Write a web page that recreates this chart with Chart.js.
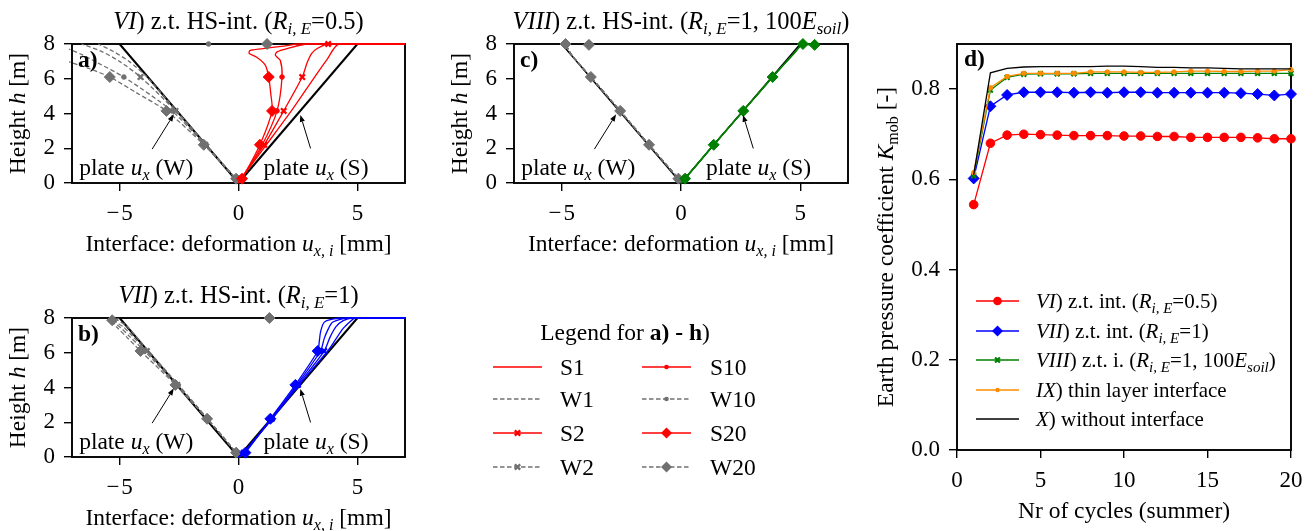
<!DOCTYPE html>
<html>
<head>
<meta charset="utf-8">
<script src="https://cdn.jsdelivr.net/npm/chart.js@4.4.1/dist/chart.umd.min.js"></script>
<style>
  html, body { margin:0; padding:0; background:#fff; }
  #wrap { position:relative; width:1314px; height:531px; overflow:hidden; }
  #wrap canvas { position:absolute; left:0; top:0; }
</style>
</head>
<body>
<div id="wrap">
  <canvas id="cv-a" width="1314" height="531"></canvas>
  <canvas id="cv-b" width="1314" height="531"></canvas>
  <canvas id="cv-c" width="1314" height="531"></canvas>
  <canvas id="cv-d" width="1314" height="531"></canvas>
</div>
<script>
/* ─── Data: panels a) - c)  (points are [u_x,i in mm, height h in m]) ── */
const UX_TICKS = [-5, 0, 5];
const H_TICKS  = [0, 2, 4, 6, 8];
const MARK_H   = [0.25, 2.2, 4.15, 6.1];   // nodes that carry a marker

const PLATE_W = [[-5, 8], [0, 0]];
const PLATE_S = [[0, 0], [5, 8]];

// a) VI  R_i,E = 0.5
const A_S1  = [[0,0],[0.12,0.25],[1.17,2.2],[2.22,4.15],[3.2,6.1],[3.72,7.1],[4.22,8],[7,8]];
const A_S2  = [[0,0],[0.12,0.25],[1.08,2.2],[1.9,4.15],[2.68,6.1],[2.88,6.9],[3.07,7.45],[3.31,7.74],[3.77,8],[7,8]];
const A_S10 = [[0,0],[0.12,0.25],[1.0,2.2],[1.62,4.15],[1.83,6.1],[1.76,7.05],[1.55,7.35],[1.62,7.55],[2.05,7.74],[2.9,8],[7,8]];
const A_S20 = [[0,0],[0.15,0.25],[0.9,2.2],[1.41,4.15],[1.36,5.1],[1.27,6.1],[1.12,6.8],[0.75,7.25],[0.45,7.45],[0.48,7.62],[0.95,7.72],[1.9,7.88],[2.5,8],[7,8]];
const A_W1  = [[0,0],[-0.12,0.25],[-1.36,2.2],[-2.6,4.15],[-3.85,6.1],[-4.6,7.0],[-5.3,7.6],[-5.9,8]];
const A_W2  = [[0,0],[-0.12,0.25],[-1.4,2.2],[-2.65,4.15],[-4.12,6.1],[-5.0,7.0],[-5.8,7.6],[-6.6,8]];
const A_W10 = [[0,0],[-0.12,0.25],[-1.42,2.2],[-2.8,4.15],[-4.82,6.1],[-5.9,6.9],[-6.6,7.4],[-7.3,7.8]];
const A_W20 = [[0,0],[-0.1,0.25],[-1.46,2.2],[-3.03,4.15],[-4.3,5.2],[-5.41,6.1],[-6.3,6.6],[-7.2,7.0]];
// surface nodes (h = 8) that show up on the top edge
const A_TOP_S2  = [[3.77, 8]];
const A_TOP_W10 = [[-1.26, 8]];
const A_TOP_W20 = [[1.2, 8]];

// b) VII  R_i,E = 1
const B_S1  = [[0,0],[0.2,0.25],[1.42,2.2],[2.55,4.15],[3.75,6.1],[4.1,6.8],[4.4,7.4],[4.7,7.8],[4.9,8],[7,8]];
const B_S2  = [[0,0],[0.22,0.25],[1.4,2.2],[2.5,4.15],[3.6,6.1],[3.85,6.9],[4.1,7.5],[4.4,7.85],[4.8,8],[7,8]];
const B_S10 = [[0,0],[0.25,0.25],[1.38,2.2],[2.45,4.15],[3.45,6.1],[3.6,6.8],[3.75,7.3],[3.95,7.75],[4.4,7.97],[4.7,8],[7,8]];
const B_S20 = [[0,0],[0.29,0.25],[1.34,2.2],[2.39,4.15],[3.33,6.1],[3.4,6.7],[3.45,7.2],[3.6,7.75],[4.0,7.95],[4.6,8],[7,8]];
const B_W1  = [[0,0],[-0.1,0.25],[-1.3,2.2],[-2.52,4.15],[-3.78,6.1],[-4.35,7.0],[-4.75,7.6],[-5.1,7.9],[-5.05,8]];
const B_W2  = [[0,0],[-0.1,0.25],[-1.31,2.2],[-2.57,4.15],[-3.85,6.1],[-4.45,6.95],[-4.85,7.5],[-5.25,7.85],[-5.15,8]];
const B_W10 = [[0,0],[-0.1,0.25],[-1.32,2.2],[-2.6,4.15],[-3.95,6.1],[-4.55,6.9],[-5.0,7.5],[-5.4,7.85],[-5.25,8]];
const B_W20 = [[0,0],[-0.1,0.25],[-1.32,2.2],[-2.65,4.15],[-4.12,6.1],[-4.7,6.9],[-5.1,7.45],[-5.35,7.8],[-5.3,8]];
const B_TOP_W20 = [[-5.31, 7.87], [1.3, 8]];

// c) VIII  R_i,E = 1, 100 E_soil  (all cycles lie on top of each other)
const C_S = [[0,0],[0.17,0.25],[1.37,2.2],[2.61,4.15],[3.84,6.1],[4.7,7.4],[5.11,8],[5.6,7.95]];
const C_W = [[0,0],[-0.11,0.25],[-1.34,2.2],[-2.55,4.15],[-3.78,6.1],[-4.6,7.4],[-4.84,8]];
const C_TOP_S20 = [[5.11, 8], [5.6, 7.95]];
const C_TOP_W20 = [[-4.84, 8], [-3.86, 7.95]];

/* ─── Data: panel d) ─────────────────────────────────────────────────── */
const CYCLES  = [1,2,3,4,5,6,7,8,9,10,11,12,13,14,15,16,17,18,19,20];
const K_VI    = [0.544,0.680,0.698,0.700,0.699,0.698,0.697,0.697,0.697,0.696,0.696,0.695,0.695,0.693,0.693,0.693,0.693,0.692,0.690,0.690];
const K_VII   = [0.602,0.762,0.787,0.793,0.793,0.793,0.792,0.793,0.792,0.793,0.793,0.792,0.792,0.792,0.792,0.792,0.791,0.789,0.786,0.789];
const K_VIII  = [0.608,0.798,0.826,0.833,0.834,0.834,0.834,0.835,0.835,0.835,0.835,0.835,0.835,0.835,0.835,0.835,0.835,0.835,0.835,0.835];
const K_IX    = [0.615,0.803,0.828,0.835,0.835,0.835,0.835,0.838,0.838,0.838,0.837,0.837,0.838,0.840,0.840,0.839,0.839,0.840,0.840,0.843];
const K_X     = [0.610,0.836,0.846,0.849,0.850,0.850,0.850,0.850,0.851,0.851,0.850,0.848,0.848,0.847,0.847,0.846,0.845,0.845,0.845,0.845];
const D_X_TICKS = [0, 5, 10, 15, 20];
const D_Y_TICKS = [0, 0.2, 0.4, 0.6, 0.8];

/* ─── Look ───────────────────────────────────────────────────────────── */
const W = 1314, H = 531;
const YW = 60, XH = 40;                 // fixed axis box sizes
const FONT = '"Liberation Serif","Times New Roman",serif';
const FS_TICK = 23, FS_TXT = 23.5, FS_TITLE = 24.5, FS_LEG_D = 21;
const RED = "#ff0000", BLUE = "#0000ff", GREEN = "#008000", ORANGE = "#ff8c00", GREY = "#707070";
const DASH = [4.5, 2.5];

const MK = {
  S1:  null,
  S2:  { style:"crossRot", r:3.8, bw:2.3 },
  S10: { style:"circle",   r:2.3, bw:1 },
  S20: { style:"rectRot",  r:5.5, bw:1 },
};
MK.W1 = MK.S1; MK.W2 = MK.S2; MK.W10 = MK.S10; MK.W20 = MK.S20;

// plot rectangles in page pixels
const GEO = {
  a: { l:72,  t:44,  r:405,  b:183 },
  b: { l:72,  t:318, r:405,  b:457 },
  c: { l:514, t:44,  r:848,  b:183 },
  d: { l:957, t:44,  r:1291, b:450 },
};

/* ─── Rich text (italics, bold, subscripts) ──────────────────────────── */
function fontStr(run, size) {
  return (run.i ? "italic " : "") + (run.b ? "bold " : "") + size + "px " + FONT;
}
function runSize(run, fs) { return run.sub ? Math.round(fs * 0.7) : fs; }
function richWidth(ctx, runs, fs) {
  let w = 0;
  runs.forEach(r => { ctx.font = fontStr(r, runSize(r, fs)); w += ctx.measureText(r.t).width; });
  return w;
}
function drawRich(ctx, runs, x, y, fs, align) {
  const w = richWidth(ctx, runs, fs);
  let cx = align === "center" ? x - w / 2 : align === "right" ? x - w : x;
  ctx.textAlign = "left"; ctx.textBaseline = "alphabetic"; ctx.fillStyle = "#000";
  runs.forEach(r => {
    ctx.font = fontStr(r, runSize(r, fs));
    ctx.fillText(r.t, cx, y + (r.sub ? fs * 0.22 : 0));
    cx += ctx.measureText(r.t).width;
  });
}

const RIE = [{t:"R",i:1},{t:"i, E",i:1,sub:1}];
const TXT = {
  titleA: [{t:"VI",i:1},{t:") z.t. HS-int. ("},...RIE,{t:"=0.5)"}],
  titleB: [{t:"VII",i:1},{t:") z.t. HS-int. ("},...RIE,{t:"=1)"}],
  titleC: [{t:"VIII",i:1},{t:") z.t. HS-int. ("},...RIE,{t:"=1, 100"},{t:"E",i:1},{t:"soil",i:1,sub:1},{t:")"}],
  xProf:  [{t:"Interface: deformation "},{t:"u",i:1},{t:"x, i",i:1,sub:1},{t:" [mm]"}],
  yProf:  [{t:"Height "},{t:"h",i:1},{t:" [m]"}],
  xD:     [{t:"Nr of cycles (summer)"}],
  yD:     [{t:"Earth pressure coefficient "},{t:"K",i:1},{t:"mob",sub:1},{t:" [-]"}],
  plateW: [{t:"plate "},{t:"u",i:1},{t:"x",i:1,sub:1},{t:" (W)"}],
  plateS: [{t:"plate "},{t:"u",i:1},{t:"x",i:1,sub:1},{t:" (S)"}],
  legTitle: [{t:"Legend for "},{t:"a) - h",b:1},{t:")"}],
};

// annotation anchors in data units
const PLATE_NOTES = [
  { text: TXT.plateW, tx:-6.7, ty:0.45, from:[-3.63,1.95], to:[-2.72,3.95] },
  { text: TXT.plateS, tx: 1.05, ty:0.45, from:[ 3.03,1.99], to:[ 2.6, 3.92] },
];

/* ─── Small drawing helpers ──────────────────────────────────────────── */
function marker(ctx, mk, x, y, color) {
  if (!mk) return;
  const r = mk.r;
  ctx.save();
  ctx.setLineDash([]);
  ctx.fillStyle = color; ctx.strokeStyle = color;
  ctx.beginPath();
  if (mk.style === "circle") {
    ctx.arc(x, y, r, 0, Math.PI * 2); ctx.fill();
  } else if (mk.style === "rectRot") {
    ctx.moveTo(x - r, y); ctx.lineTo(x, y - r); ctx.lineTo(x + r, y); ctx.lineTo(x, y + r);
    ctx.closePath(); ctx.fill();
  } else {
    const d = r * Math.SQRT1_2;
    ctx.lineWidth = mk.bw;
    ctx.moveTo(x - d, y - d); ctx.lineTo(x + d, y + d);
    ctx.moveTo(x + d, y - d); ctx.lineTo(x - d, y + d);
    ctx.stroke();
  }
  ctx.restore();
}

function arrow(ctx, x0, y0, x1, y1) {
  const ang = Math.atan2(y1 - y0, x1 - x0), L = 7, hw = 2.6;
  ctx.save();
  ctx.strokeStyle = "#000"; ctx.fillStyle = "#000"; ctx.lineWidth = 1;
  ctx.beginPath(); ctx.moveTo(x0, y0);
  ctx.lineTo(x1 - Math.cos(ang) * L, y1 - Math.sin(ang) * L); ctx.stroke();
  ctx.beginPath();
  ctx.moveTo(x1, y1);
  ctx.lineTo(x1 - Math.cos(ang) * L - Math.sin(ang) * hw, y1 - Math.sin(ang) * L + Math.cos(ang) * hw);
  ctx.lineTo(x1 - Math.cos(ang) * L + Math.sin(ang) * hw, y1 - Math.sin(ang) * L - Math.cos(ang) * hw);
  ctx.closePath(); ctx.fill();
  ctx.restore();
}

function legendRow(ctx, x0, x1, y, color, dashed, mk, lw) {
  ctx.save();
  ctx.strokeStyle = color; ctx.lineWidth = lw || 1.3;
  ctx.setLineDash(dashed ? DASH : []);
  ctx.beginPath(); ctx.moveTo(x0, y); ctx.lineTo(x1, y); ctx.stroke();
  ctx.restore();
  marker(ctx, mk, (x0 + x1) / 2, y, color);
}

/* ─── Datasets ───────────────────────────────────────────────────────── */
function markIndex(pts) {
  const s = new Set();
  MARK_H.forEach(h => { const i = pts.findIndex(p => p[1] === h); if (i >= 0) s.add(i); });
  return s;
}

function profile(pts, key, color, order) {
  const mk = MK[key];
  const dashed = key[0] === "W";
  const idx = markIndex(pts);
  return {
    data: pts.map(p => ({ x: p[0], y: p[1] })),
    showLine: true,
    borderColor: color,
    borderWidth: 1.3,
    borderDash: dashed ? DASH : [],
    tension: 0.25,
    pointStyle: mk ? mk.style : "circle",
    pointRadius: c => (mk && idx.has(c.dataIndex)) ? mk.r : 0,
    pointBorderWidth: mk ? mk.bw : 0,
    pointBackgroundColor: color,
    pointBorderColor: color,
    clip: 3,
    order,
  };
}

// marker-only nodes (e.g. on the surface edge)
function nodes(pts, key, color) {
  const mk = MK[key];
  return {
    data: pts.map(p => ({ x: p[0], y: p[1] })),
    showLine: false,
    pointStyle: mk.style, pointRadius: mk.r, pointBorderWidth: mk.bw,
    pointBackgroundColor: color, pointBorderColor: color,
    clip: 8, order: 10,
  };
}

function plate(pts, lw) {
  return {
    data: pts.map(p => ({ x: p[0], y: p[1] })),
    showLine: true, borderColor: "#000", borderWidth: lw,
    pointRadius: 0, tension: 0, clip: 2, order: 100,
  };
}

function profileSets(s, w, sColor, plateLw) {
  return [
    plate(PLATE_W, plateLw), plate(PLATE_S, plateLw),
    profile(w.W1, "W1", GREY, 50), profile(w.W2, "W2", GREY, 49),
    profile(w.W10, "W10", GREY, 48), profile(w.W20, "W20", GREY, 47),
    profile(s.S1, "S1", sColor, 40), profile(s.S2, "S2", sColor, 39),
    profile(s.S10, "S10", sColor, 38), profile(s.S20, "S20", sColor, 37),
  ];
}

/* ─── Axes ───────────────────────────────────────────────────────────── */
const fmtMinus = v => (v < 0 ? "\u2212\u200a" + Math.abs(v) : String(v));

function axis(vertical, min, max, ticks, fmt) {
  return {
    type: "linear", min, max,
    afterBuildTicks: s => { s.ticks = ticks.map(v => ({ value: v })); },
    afterFit: s => { if (vertical) s.width = YW; else s.height = XH; },
    ticks: { color:"#000", font:{ family:FONT, size:FS_TICK }, padding:9,
             autoSkip:false, maxRotation:0, callback: fmt },
    grid: { drawOnChartArea:false, color:"#000", tickLength:8, lineWidth:1.4 },
    border: { display:false },
  };
}

const framePlugin = {
  id: "frame",
  beforeDatasetsDraw(c) {
    const a = c.chartArea, ctx = c.ctx;
    ctx.save();
    ctx.strokeStyle = "#000"; ctx.lineWidth = 1.9;
    ctx.strokeRect(a.left, a.top, a.right - a.left, a.bottom - a.top);
    ctx.restore();
  },
};

function makeChart(id, g, datasets, scales, draw) {
  return new Chart(document.getElementById(id), {
    type: "scatter",
    data: { datasets },
    options: {
      responsive: false, animation: false, events: [],
      layout: { padding: { left: g.l - YW, top: g.t, right: W - g.r, bottom: H - g.b - XH } },
      plugins: { legend: { display:false }, tooltip: { enabled:false } },
      scales,
    },
    plugins: [framePlugin, { id:"texts", afterDraw: draw }],
  });
}

/* ─── Text layers ────────────────────────────────────────────────────── */
function drawAxisTexts(c, xRuns, yRuns, yOff) {
  const a = c.chartArea, ctx = c.ctx;
  drawRich(ctx, xRuns, (a.left + a.right) / 2, a.bottom + 68, FS_TXT, "center");
  ctx.save();
  ctx.translate(a.left - yOff, (a.top + a.bottom) / 2);
  ctx.rotate(-Math.PI / 2);
  drawRich(ctx, yRuns, 0, 0, FS_TXT, "center");
  ctx.restore();
}

function drawProfileTexts(c, title, tag) {
  const a = c.chartArea, ctx = c.ctx, sx = c.scales.x, sy = c.scales.y;
  drawRich(ctx, title, (a.left + a.right) / 2, a.top - 15, FS_TITLE, "center");
  drawAxisTexts(c, TXT.xProf, TXT.yProf, 47);
  drawRich(ctx, [{ t: tag, b: 1 }], a.left + 6, a.top + 23, FS_TXT, "left");
  PLATE_NOTES.forEach(n => {
    drawRich(ctx, n.text, sx.getPixelForValue(n.tx), sy.getPixelForValue(n.ty), FS_TXT, "left");
    arrow(ctx, sx.getPixelForValue(n.from[0]), sy.getPixelForValue(n.from[1]),
               sx.getPixelForValue(n.to[0]),   sy.getPixelForValue(n.to[1]));
  });
}

// shared legend for a) - h), placed below panel c)
const LEG_AH = {
  title: { x:625, y:340 },
  cols: [ { x0:493, x1:542, tx:560 }, { x0:642, x1:691, tx:710 } ],
  rows: [367, 399, 433, 467],
  items: [["S1","W1","S2","W2"], ["S10","W10","S20","W20"]],
};
function drawSharedLegend(ctx) {
  drawRich(ctx, TXT.legTitle, LEG_AH.title.x, LEG_AH.title.y, FS_TXT, "center");
  LEG_AH.cols.forEach((col, ci) => {
    LEG_AH.items[ci].forEach((key, ri) => {
      const y = LEG_AH.rows[ri];
      const isW = key[0] === "W";
      legendRow(ctx, col.x0, col.x1, y, isW ? GREY : RED, isW, MK[key]);
      drawRich(ctx, [{ t: key }], col.tx, y + 8, FS_TXT, "left");
    });
  });
}

/* ─── Panel d) series + legend ───────────────────────────────────────── */
const D_SERIES = [
  { data:K_VI,   color:RED,    mk:{ style:"circle",   r:4.3, bw:1 } },
  { data:K_VII,  color:BLUE,   mk:{ style:"rectRot",  r:5.5, bw:1 } },
  { data:K_VIII, color:GREEN,  mk:{ style:"crossRot", r:3.4, bw:2.2 } },
  { data:K_IX,   color:ORANGE, mk:{ style:"circle",   r:2.2, bw:1 } },
  { data:K_X,    color:"#000", mk:null },
];
const D_LABELS = [
  [{t:"VI",i:1},{t:") z.t. int. ("},...RIE,{t:"=0.5)"}],
  [{t:"VII",i:1},{t:") z.t. int. ("},...RIE,{t:"=1)"}],
  [{t:"VIII",i:1},{t:") z.t. i. ("},...RIE,{t:"=1, 100"},{t:"E",i:1},{t:"soil",i:1,sub:1},{t:")"}],
  [{t:"IX",i:1},{t:") thin layer interface"}],
  [{t:"X",i:1},{t:") without interface"}],
];
const LEG_D = { x0:976, x1:1019, tx:1036, rows:[301, 331, 360, 390, 419] };

/* ─── Build charts ───────────────────────────────────────────────────── */
makeChart("cv-a", GEO.a,
  profileSets({S1:A_S1,S2:A_S2,S10:A_S10,S20:A_S20}, {W1:A_W1,W2:A_W2,W10:A_W10,W20:A_W20}, RED, 2)
    .concat([nodes(A_TOP_S2, "S2", RED), nodes(A_TOP_W10, "W10", GREY), nodes(A_TOP_W20, "W20", GREY)]),
  { x: axis(false, -7, 7, UX_TICKS, fmtMinus), y: axis(true, 0, 8, H_TICKS, fmtMinus) },
  c => drawProfileTexts(c, TXT.titleA, "a)"));

makeChart("cv-b", GEO.b,
  profileSets({S1:B_S1,S2:B_S2,S10:B_S10,S20:B_S20}, {W1:B_W1,W2:B_W2,W10:B_W10,W20:B_W20}, BLUE, 2)
    .concat([nodes(B_TOP_W20, "W20", GREY)]),
  { x: axis(false, -7, 7, UX_TICKS, fmtMinus), y: axis(true, 0, 8, H_TICKS, fmtMinus) },
  c => { drawProfileTexts(c, TXT.titleB, "b)"); drawSharedLegend(c.ctx); });

makeChart("cv-c", GEO.c,
  profileSets({S1:C_S,S2:C_S,S10:C_S,S20:C_S}, {W1:C_W,W2:C_W,W10:C_W,W20:C_W}, GREEN, 1.5)
    .concat([nodes(C_TOP_S20, "S20", GREEN), nodes(C_TOP_W20, "W20", GREY)]),
  { x: axis(false, -7, 7, UX_TICKS, fmtMinus), y: axis(true, 0, 8, H_TICKS, fmtMinus) },
  c => drawProfileTexts(c, TXT.titleC, "c)"));

makeChart("cv-d", GEO.d,
  D_SERIES.map((s, i) => ({
    data: CYCLES.map((n, k) => ({ x: n, y: s.data[k] })),
    showLine: true, borderColor: s.color, borderWidth: 1.3, tension: 0,
    pointStyle: s.mk ? s.mk.style : "circle",
    pointRadius: s.mk ? s.mk.r : 0,
    pointBorderWidth: s.mk ? s.mk.bw : 0,
    pointBackgroundColor: s.color, pointBorderColor: s.color,
    clip: 6, order: D_SERIES.length - i,
  })),
  { x: axis(false, 0, 20, D_X_TICKS, v => String(v)),
    y: axis(true, 0, 0.9, D_Y_TICKS, v => v.toFixed(1)) },
  c => {
    const ctx = c.ctx, a = c.chartArea;
    drawAxisTexts(c, TXT.xD, TXT.yD, 64);
    drawRich(ctx, [{ t:"d)", b:1 }], a.left + 7, a.top + 22, FS_TXT, "left");
    D_SERIES.forEach((s, i) => {
      const y = LEG_D.rows[i];
      legendRow(ctx, LEG_D.x0, LEG_D.x1, y, s.color, false, s.mk);
      drawRich(ctx, D_LABELS[i], LEG_D.tx, y + 7, FS_LEG_D, "left");
    });
  });
</script>
</body>
</html>
